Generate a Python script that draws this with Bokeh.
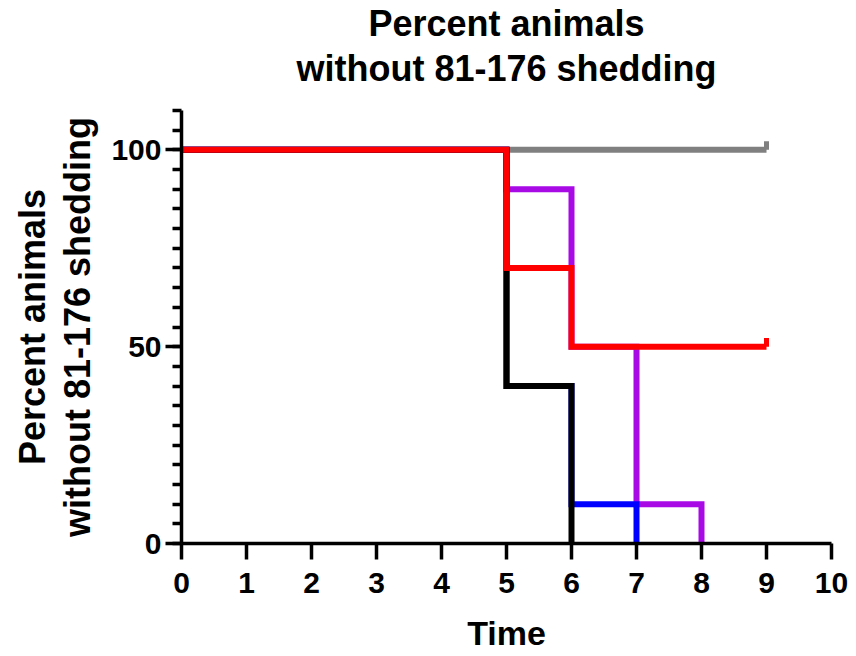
from bokeh.plotting import figure
from bokeh.models import Range1d, FixedTicker, Title
from bokeh.embed import file_html
from bokeh.resources import INLINE

# Data (Kaplan-Meier style step curves)
gray_t = [0, 9]
gray_v = [100, 100]
red_t = [0, 5, 6, 9]
red_v = [100, 70, 50, 50]
purple_t = [0, 5, 6, 7, 8]
purple_v = [100, 90, 50, 10, 0]
blue_t = [0, 5, 6, 7]
blue_v = [100, 40, 10, 0]
black_t = [0, 5, 6]
black_v = [100, 40, 0]

# censored observations
gray_cens_t = [9]
gray_cens_v = [100]
red_cens_t = [9]
red_cens_v = [50]

x_ticks = list(range(0, 11))
y_ticks = [0, 50, 100]
y_minor = list(range(0, 111, 5))

title_line1 = "Percent animals"
title_line2 = "without 81-176 shedding"

FONT = "Liberation Sans"

p = figure(width=848, height=654, output_backend="svg", toolbar_location=None,
           x_range=Range1d(0, 10), y_range=Range1d(0, 110),
           min_border_left=181, min_border_right=17, min_border_top=109, min_border_bottom=111)
p.outline_line_color = None
p.xgrid.visible = False
p.ygrid.visible = False
p.background_fill_color = "white"
p.border_fill_color = "white"
p.title.visible = False

# blank spacer between the frame and the title lines
p.add_layout(Title(text="\u00a0", text_font=FONT, text_font_size="12px", text_color="white",
                   standoff=4), "above")
# two centred title lines (later-added is farther from the frame)
for txt, off in ((title_line2, 4), (title_line1, 0)):
    p.add_layout(Title(text=txt, align="center", text_font=FONT, text_font_size="36px",
                       text_font_style="bold", text_color="black", standoff=off), "above")

for ax in (p.xaxis[0], p.yaxis[0]):
    ax.axis_line_width = 3.5
    ax.axis_line_color = "black"
    ax.major_tick_line_width = 3.5
    ax.minor_tick_line_width = 3.5
    ax.major_tick_line_color = "black"
    ax.minor_tick_line_color = "black"
    ax.major_tick_in = 0
    ax.major_tick_out = 16
    ax.minor_tick_in = 0
    ax.minor_tick_out = 9
    ax.major_label_text_font = FONT
    ax.major_label_text_font_size = "30px"
    ax.major_label_text_font_style = "bold"
    ax.major_label_text_color = "black"
    ax.axis_label_text_font = FONT
    ax.axis_label_text_font_size = "34px"
    ax.axis_label_text_font_style = "bold"
    ax.axis_label_text_color = "black"

p.xaxis.ticker = FixedTicker(ticks=x_ticks, minor_ticks=[])
p.yaxis.ticker = FixedTicker(ticks=y_ticks, minor_ticks=y_minor)
p.xaxis.major_label_standoff = 13
p.yaxis.major_label_standoff = 4
p.xaxis.axis_label = "Time"
p.yaxis.axis_label = title_line1 + "\n" + title_line2
p.yaxis.axis_label_text_font_size = "36px"
p.yaxis.axis_label_text_line_height = 1.12
p.xaxis.axis_label_standoff = 18
p.yaxis.axis_label_standoff = 10

LW = 6
p.step(gray_t, gray_v, mode="after", line_color="#808080", line_width=LW, line_join="miter")
p.segment(gray_cens_t, gray_cens_v, gray_cens_t, [v + 2.2 for v in gray_cens_v],
          line_color="#808080", line_width=5)
p.step(purple_t, purple_v, mode="after", line_color="#A80AE6", line_width=LW, line_join="miter")
p.step(blue_t, blue_v, mode="after", line_color="#0000FF", line_width=LW, line_join="miter")
p.step(black_t, black_v, mode="after", line_color="#000000", line_width=LW, line_join="miter")
p.step(red_t, red_v, mode="after", line_color="#FF0000", line_width=LW, line_join="miter")
p.segment(red_cens_t, red_cens_v, red_cens_t, [v + 2.2 for v in red_cens_v],
          line_color="#FF0000", line_width=5)

open("out.html", "w").write(file_html(p, INLINE))
